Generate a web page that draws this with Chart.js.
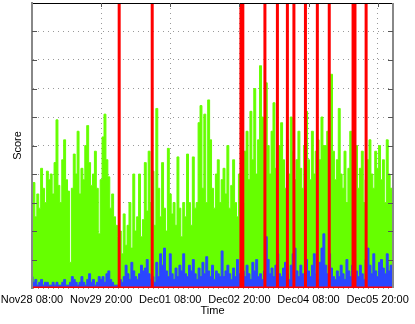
<!DOCTYPE html>
<html>
<head>
<meta charset="utf-8">
<script src="https://cdn.jsdelivr.net/npm/chart.js@4"></script>
<style>
html,body{margin:0;padding:0;background:#fff;}
canvas{display:block;}
</style>
</head>
<body>
<canvas id="c" width="415" height="324"></canvas>
<script>
// hours since Nov28 08:00
const tickLabels = ["Nov28 08:00","Nov29 20:00","Dec01 08:00","Dec02 20:00","Dec04 08:00","Dec05 20:00"];
const tickStepHours = 36;
const xMaxHours = 188;

const greenScore = [
30,37,25,33,28,42,35,30,41,38,
40,33,44,59,36,30,45,52,38,34,
9,35,47,40,55,33,42,38,50,57,
44,36,40,48,35,19,38,53,61,45,
39,28,33,25,22,18,20,12,26,15,
22,30,14,40,20,25,40,18,24,44,
27,48,30,41,22,63,35,25,44,28,
20,49,33,26,30,22,46,28,18,30,
25,47,30,22,46,28,30,58,64,35,
61,30,66,52,35,28,40,45,30,38,
42,33,50,28,36,45,30,25,40,35,
30,48,55,38,62,45,70,40,52,78,
60,45,72,50,40,55,65,42,38,50,
58,45,35,52,40,60,48,38,45,55,
42,35,50,62,45,38,55,40,48,52,
45,60,50,50,55,42,75,48,38,45,
63,40,35,48,30,42,55,45,38,50,
35,42,48,30,38,45,52,40,35,48,
42,50,38,45,30,52,40,35,28
];

const blueScore = [
4,2,3,1,2,3,1,2,2,1,
1,2,1,2,1,1,2,3,1,1,
2,4,3,2,1,2,4,2,1,3,
5,2,3,1,2,4,3,4,2,5,
6,3,2,1,1,1,3,2,4,8,
5,3,9,6,4,3,5,8,6,7,
10,5,3,4,2,9,4,12,8,14,
6,4,12,5,3,7,4,8,6,12,
5,4,8,6,10,5,3,7,4,9,
5,11,6,4,8,3,6,5,4,13,
4,6,8,5,3,7,4,10,5,3,
6,4,8,5,3,9,6,10,4,5,
3,6,18,10,5,7,4,8,12,5,
4,7,9,5,3,8,12,14,6,4,
8,5,3,10,6,4,8,12,5,3,
9,14,19,8,5,12,7,4,3,6,
4,8,5,3,10,6,4,8,12,6,
4,8,5,3,10,14,8,5,12,6,
4,9,10,7,5,12,6,8,3
];

// red alert events (hours since start), spikes reach top
const redEvents = [45.4, 62.6, 108.8, 109.8, 121.3, 127.8, 133.0, 136.4, 142.4, 148.6, 154.8, 167.2, 168.2, 174.0];
const redPeak = 100;

const greenData = greenScore.map((v,i)=>({x:i,y:v}));
const blueData = blueScore.map((v,i)=>({x:i,y:v}));
const redData = [{x:0,y:0}];
redEvents.forEach(t=>{ redData.push({x:t,y:0},{x:t,y:redPeak},{x:t,y:0}); });
redData.push({x:xMaxHours,y:0});

const FONT = "'Liberation Sans', Arial, sans-serif";
Chart.defaults.font.family = FONT;
Chart.defaults.font.size = 11;
Chart.defaults.color = '#000';

new Chart(document.getElementById('c'), {
  type: 'line',
  data: {
    datasets: [
      {label:'red', data: redData, borderColor:'#ff0000', borderWidth:3, pointRadius:0, fill:false, order:0, tension:0},
      {label:'blue', data: blueData, borderColor:'#2a46ff', backgroundColor:'#2a46ff', borderWidth:1, pointRadius:0, fill:'origin', order:1, stepped:'middle'},
      {label:'green', data: greenData, borderColor:'#66ff00', backgroundColor:'#66ff00', borderWidth:1, pointRadius:0, fill:'origin', order:2, stepped:'middle'}
    ]
  },
  options: {
    responsive:false,
    animation:false,
    events:[],
    layout:{padding:{left:0,right:22,top:3,bottom:0}},
    plugins:{legend:{display:false}, tooltip:{enabled:false}},
    scales:{
      x:{
        type:'linear', min:0, max:xMaxHours, offset:false,
        ticks:{stepSize:tickStepHours, includeBounds:false, maxRotation:0, autoSkip:false, padding:5,
          callback:(v)=>{ const i = v/tickStepHours; return Number.isInteger(i) && tickLabels[i] ? tickLabels[i] : ''; }},
        grid:{color:'#9a9a9a', drawTicks:false, offset:false},
        border:{display:false, dash:[1,4]},
        title:{display:true, text:'Time', padding:{top:0,bottom:6}},
        afterFit:(s)=>{ s.height = 36; s.paddingLeft = 0; s.paddingRight = 0; }
      },
      y:{
        type:'linear', min:0, max:100,
        ticks:{stepSize:10, display:false},
        grid:{color:'#9a9a9a', drawTicks:false},
        border:{display:true, color:'#888', width:2, dash:[1,4]},
        title:{display:true, text:'Score', padding:{top:11,bottom:0}},
        afterFit:(s)=>{ s.width = 32; }
      }
    }
  },
  plugins:[{
    id:'frame',
    afterDraw(chart){
      const a = chart.chartArea, ctx = chart.ctx;
      const xs = chart.scales.x, ys = chart.scales.y;
      ctx.save();
      ctx.setLineDash([]);
      ctx.strokeStyle = '#000'; ctx.lineWidth = 1;
      ctx.beginPath(); ctx.moveTo(a.left, a.top+0.5); ctx.lineTo(a.right, a.top+0.5); ctx.stroke();
      ctx.strokeStyle = '#888'; ctx.lineWidth = 2;
      ctx.beginPath(); ctx.moveTo(a.left, a.top); ctx.lineTo(a.left, a.bottom); ctx.stroke();
      ctx.beginPath(); ctx.moveTo(a.right, a.top); ctx.lineTo(a.right, a.bottom); ctx.stroke();
      // inward tick marks
      ctx.strokeStyle = '#555'; ctx.lineWidth = 1;
      ys.ticks.forEach(t=>{
        if (t.value <= 0 || t.value >= 100) return;
        const py = Math.round(ys.getPixelForValue(t.value)) + 0.5;
        ctx.beginPath(); ctx.moveTo(a.left, py); ctx.lineTo(a.left+5, py); ctx.stroke();
        ctx.beginPath(); ctx.moveTo(a.right-5, py); ctx.lineTo(a.right, py); ctx.stroke();
      });
      xs.ticks.forEach(t=>{
        if (t.value <= 0) return;
        const px = Math.round(xs.getPixelForValue(t.value)) + 0.5;
        ctx.beginPath(); ctx.moveTo(px, a.top); ctx.lineTo(px, a.top+4); ctx.stroke();
      });
      ctx.restore();
    }
  }]
});
</script>
</body>
</html>
